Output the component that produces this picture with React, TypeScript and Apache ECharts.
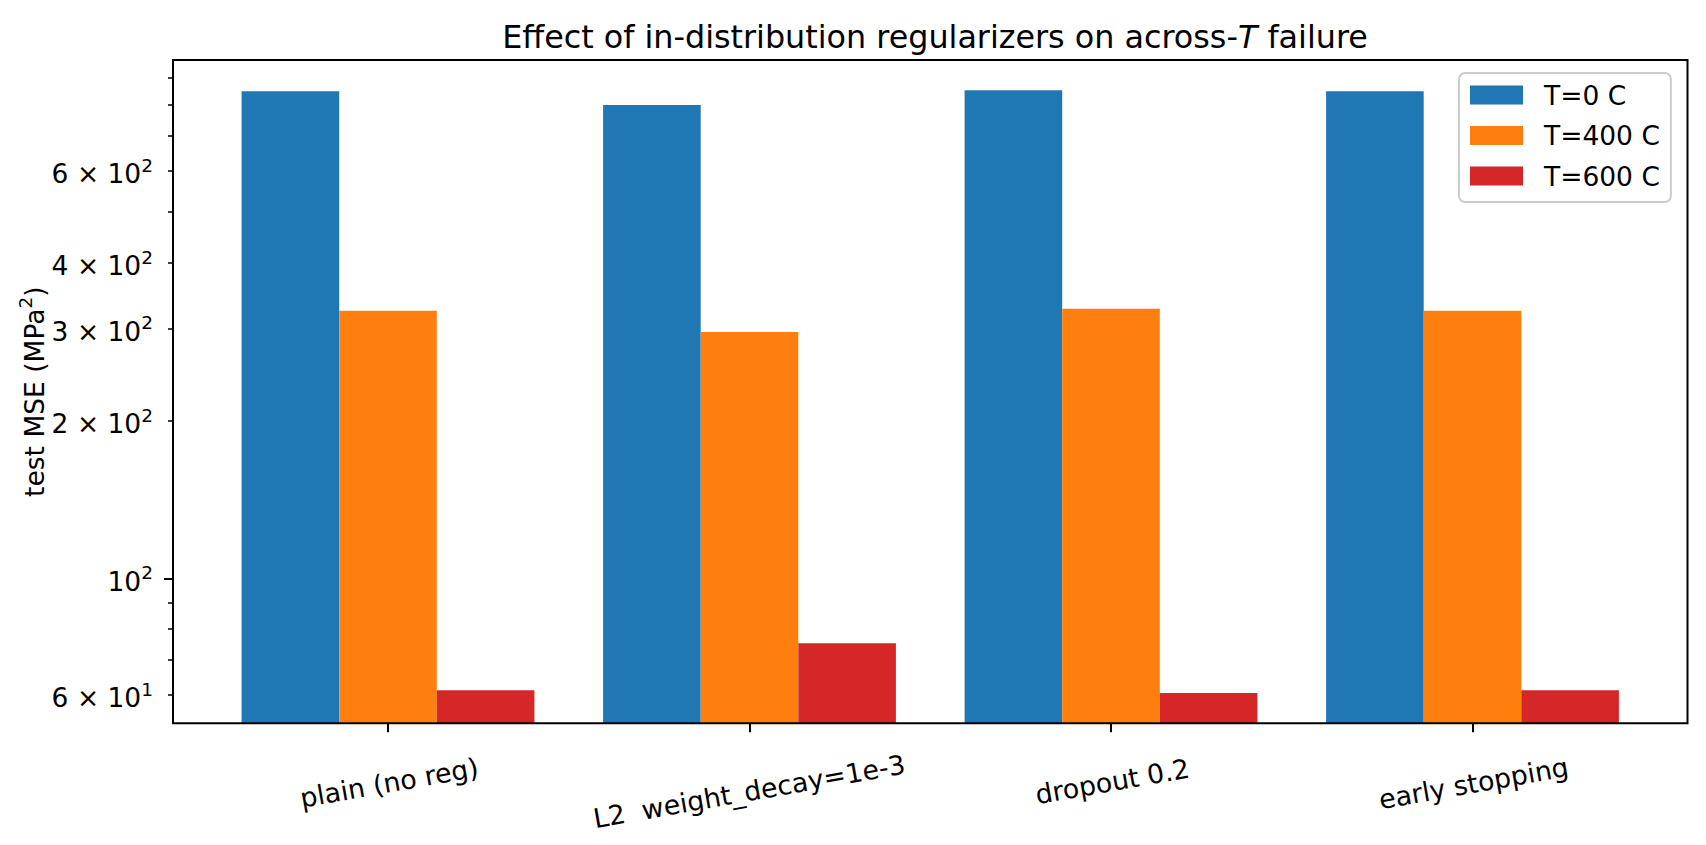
import React, { useEffect, useRef } from 'react';
import * as echarts from 'echarts';

const categories = ['plain (no reg)', 'L2  weight_decay=1e-3', 'dropout 0.2', 'early stopping'];
const seriesNames = ['T=0 C', 'T=400 C', 'T=600 C'];
const mseT0 = [850, 800, 854, 850];
const mseT400 = [324, 295, 327, 324];
const mseT600 = [61.2, 75.2, 60.4, 61.2];
const yMin = 52.9;
const yMax = 975;
const yLabelTicks = [60, 100, 200, 300, 400, 600];
const yMajorTicks = [100];
const yMinorTicks = [60, 70, 80, 90, 200, 300, 400, 500, 600, 700, 800, 900];

const colors = ['#1f77b4', '#ff7f0e', '#d62728'];
const F = 'DejaVu Sans';
const FS = 26.5;
const XFS = 26.8;
const SUP = 18.5;
// per-label padding so rotated labels are top-aligned like matplotlib
const labelPad = [
  [16.5, 5.8, 0, 0],
  [33, 11.6, 0, 0],
  [14, 4.9, 0, 0],
  [17.5, 6.1, 0, 0],
];

function sciLabel(v: number): string {
  const e = Math.floor(Math.log10(v) + 1e-9);
  const m = Math.round(v / Math.pow(10, e));
  return m === 1 ? `{m|10}{s|${e}}` : `{m|${m} × 10}{s|${e}}`;
}

const supRich = {
  m: { fontFamily: F, fontSize: FS, lineHeight: 36, color: '#000', fontWeight: 'normal' },
  s: { fontFamily: F, fontSize: SUP, lineHeight: SUP, verticalAlign: 'top', color: '#000', fontWeight: 'normal' },
};

export default function App() {
  const ref = useRef<HTMLDivElement>(null);
  useEffect(() => {
    if (!ref.current) return;
    const chart = echarts.init(ref.current, null, { renderer: 'svg' });
    const xRich: any = {};
    labelPad.forEach((p, i) => {
      xRich['l' + i] = { fontFamily: F, fontSize: XFS, lineHeight: 30, color: '#000', padding: p };
    });
    const option: any = {
      animation: false,
      backgroundColor: '#fff',
      title: {
        text: '{m|Effect of in-distribution regularizers on across-}{i|T}{m| failure}',
        left: 930,
        top: 13,
        textAlign: 'center',
        textStyle: {
          fontWeight: 'normal',
          rich: {
            m: { fontFamily: F, fontSize: 31.8, lineHeight: 36, color: '#000', fontWeight: 'normal' },
            i: { fontFamily: F, fontSize: 31.8, lineHeight: 36, color: '#000', fontWeight: 'normal', fontStyle: 'italic' },
          },
        },
      },
      legend: {
        orient: 'vertical',
        left: 1459,
        top: 73,
        padding: [8, 11, 12, 11],
        itemWidth: 53,
        itemHeight: 19,
        itemGap: 12.5,
        icon: 'rect',
        backgroundColor: '#fff',
        borderColor: '#cccccc',
        borderWidth: 2,
        borderRadius: 6,
        textStyle: { fontFamily: F, fontSize: FS, color: '#000', lineHeight: 28, padding: [0, 0, 0, 16] },
        data: seriesNames,
      },
      grid: [
        {
          left: 173, right: 18.5, top: 60, bottom: 121.7,
          show: true, borderColor: '#000', borderWidth: 2, backgroundColor: 'transparent',
          z: 10, outerBoundsMode: 'none', containLabel: false,
        },
        {
          left: 207.25, right: 52.75, top: 60, bottom: 121.7,
          outerBoundsMode: 'none', containLabel: false,
        },
      ],
      xAxis: [
        { type: 'value', gridIndex: 0, min: 0, max: 1, show: false },
        {
          type: 'category',
          gridIndex: 1,
          data: categories,
          axisLine: { show: false },
          splitLine: { show: false },
          axisTick: { show: true, alignWithLabel: true, length: 9, lineStyle: { color: '#000', width: 2 } },
          axisLabel: {
            interval: 0,
            rotate: 10,
            align: 'center',
            verticalAlign: 'top',
            margin: 36,
            formatter: (v: string, i: number) => `{l${i}|${v}}`,
            rich: xRich,
          },
        },
      ],
      yAxis: [
        {
          type: 'log',
          gridIndex: 0,
          position: 'left',
          min: yMin,
          max: yMax,
          axisLine: { show: false },
          splitLine: { show: false },
          minorTick: { show: false },
          axisTick: { show: true, customValues: yMajorTicks, length: 9, lineStyle: { color: '#000', width: 2 } },
          axisLabel: {
            customValues: yLabelTicks,
            margin: 20,
            padding: [6, 0, 0, 0],
            formatter: (v: number) => sciLabel(v),
            rich: supRich,
          },
          name: '{m|test MSE (MPa}{s|2}{m|)}',
          nameLocation: 'middle',
          nameGap: 121,
          nameMoveOverlap: false,
          nameTextStyle: { rich: supRich },
        },
        {
          type: 'log',
          gridIndex: 0,
          position: 'left',
          min: yMin,
          max: yMax,
          axisLine: { show: false },
          splitLine: { show: false },
          axisLabel: { show: false },
          axisTick: { show: true, customValues: yMinorTicks, length: 5, lineStyle: { color: '#000', width: 1.5 } },
        },
        { type: 'log', gridIndex: 1, min: yMin, max: yMax, show: false, splitLine: { show: false } },
      ],
      series: [mseT0, mseT400, mseT600].map((d, i) => ({
        type: 'bar',
        name: seriesNames[i],
        xAxisIndex: 1,
        yAxisIndex: 2,
        data: d,
        barWidth: '27%',
        barGap: '0%',
        clip: true,
        itemStyle: { color: colors[i] },
      })),
    };
    chart.setOption(option);
    return () => chart.dispose();
  }, []);
  return (
    <div
      ref={ref}
      style={{ position: 'fixed', left: 0, top: 0, width: 1706, height: 845, background: '#fff' }}
    />
  );
}
